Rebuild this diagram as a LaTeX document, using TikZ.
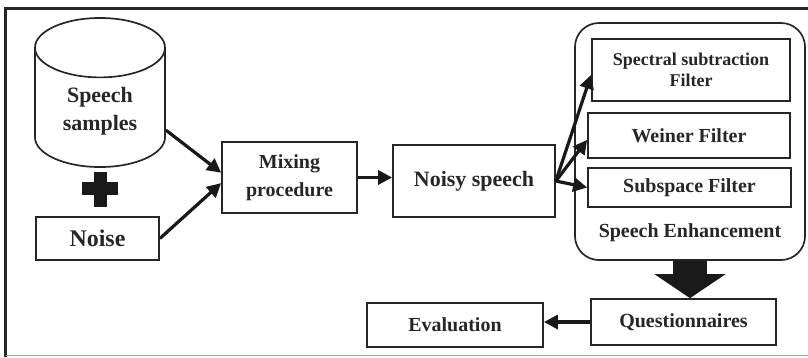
\documentclass[tikz,border=0pt]{standalone}
\usepackage{fontspec}
\setmainfont{Liberation Serif}
\usetikzlibrary{arrows.meta}
\usetikzlibrary{shapes.geometric}
\tikzset{
    block/.style={
      rectangle,
      draw=black!85,
      line width=1.2pt,
      align=center,
      text=black!85,
      font=\bfseries\fontsize{14.2}{19.9}\selectfont,
      inner sep=1pt
    },
    flow/.style={
      line width=2.3pt,
      color=black!90,
      -{Triangle[length=0.35cm,width=0.35cm]}
    },
}

\begin{document}
\begin{tikzpicture}[x=0.025cm,y=-0.025cm]
    \useasboundingbox (0,0) rectangle (808,357);

    % frame round the figure
    \draw[line width=2.2pt,color=black!85] (808,8.5) -- (5.5,8.5) -- (5.5,357);
    \draw[line width=1.2pt,color=gray!70] (5.5,355.5) -- (808,355.5);

    % inputs
    \draw (100,92.5) node[block,cylinder,shape border rotate=90,aspect=0.77,anchor=shape center,
      minimum width=3.25cm,minimum height=3.725cm,
      font=\bfseries\fontsize{15.6}{19.9}\selectfont] (Speech) {Speech\\samples};
    \fill[color=black!90] (94,172) rectangle (107,207);
    \fill[color=black!90] (82,182) rectangle (118,195);
    \draw (97.5,238.5) node[block,minimum width=3.075cm,minimum height=1.075cm,
      font=\bfseries\fontsize{17}{20}\selectfont] (Noise) {Noise};

    \draw (289.5,177.5) node[block,minimum width=3.375cm,minimum height=1.775cm] (Mixing) {Mixing\\procedure};
    \draw (474,181) node[block,minimum width=4.05cm,minimum height=1.8cm,
      font=\bfseries\fontsize{15.6}{19.9}\selectfont] (Noisy) {Noisy speech};

    % enhancement filters
    \draw (690,141.5) node[block,rounded corners=0.6cm,minimum width=5.75cm,minimum height=5.925cm] (Enh) {};
    \draw (691,70) node[block,minimum width=4.95cm,minimum height=1.55cm,
      font=\bfseries\fontsize{12.8}{15}\selectfont] (Spectral) {Spectral subtraction\\Filter};
    \draw (689,135.5) node[block,minimum width=5.05cm,minimum height=1.125cm] (Weiner) {Weiner Filter};
    \draw (689.5,187.5) node[block,minimum width=5.075cm,minimum height=0.975cm] (Subspace) {Subspace Filter};
    \draw (690,233) node[block,draw=none] (EnhLabel) {Speech Enhancement};

    % outputs
    \draw (683.5,322) node[block,minimum width=4.625cm,minimum height=1.15cm] (Quest) {Questionnaires};
    \draw (455,325) node[block,minimum width=4.4cm,minimum height=1.1cm] (Eval) {Evaluation};

    \path ([yshift=-0.94cm]Speech.shape center -| Speech.east) edge[flow] ([yshift=0.12cm]Mixing.west);
    \path (Noise.east) edge[flow] ([yshift=-0.14cm]Mixing.west);
    \path (Mixing.east) edge[flow] (Mixing.east -| Noisy.west);
    \path (Noisy.east) edge[flow] ([yshift=-0.12cm]Spectral.west);
    \path (Noisy.east) edge[flow] ([yshift=-0.11cm]Weiner.west);
    \path (Noisy.east) edge[flow] (Subspace.west);
    \draw[line width=0.85cm,color=black!90,-{Triangle[length=0.6cm,width=1.75cm]}] (Enh.south) -- (Enh.south |- Quest.north);
    \path (Quest.west) edge[flow] (Quest.west -| Eval.east);
\end{tikzpicture}
\end{document}
